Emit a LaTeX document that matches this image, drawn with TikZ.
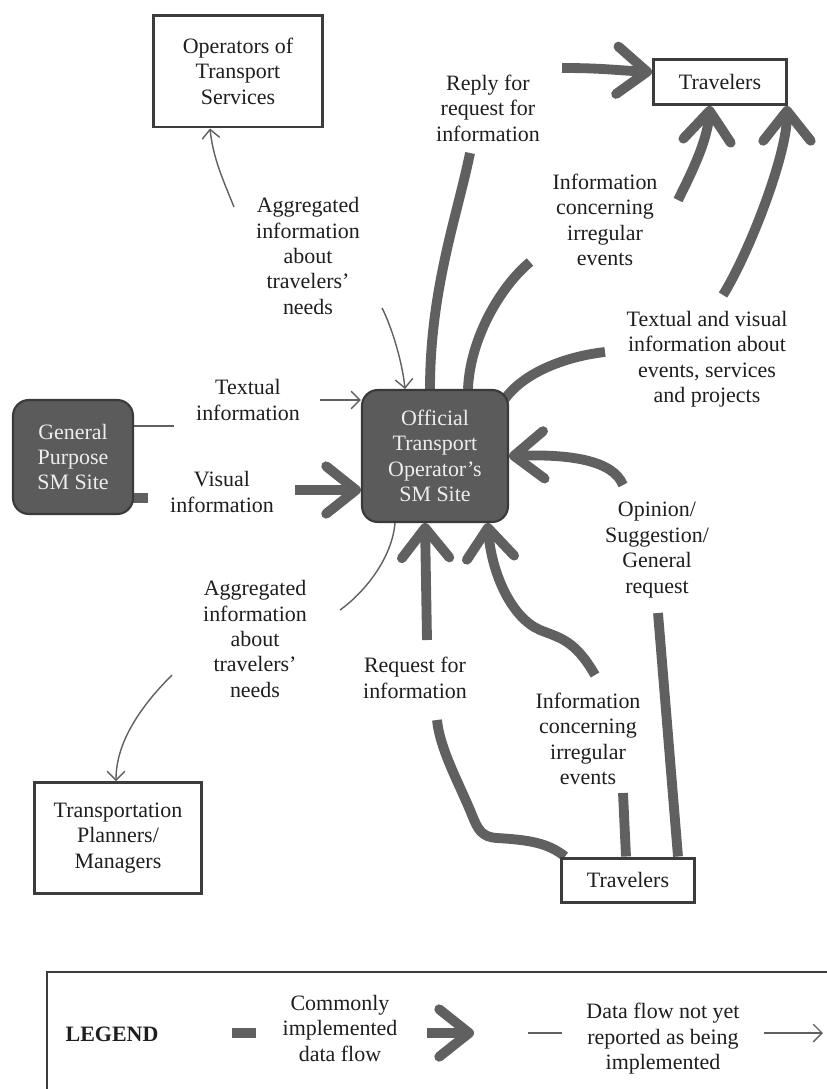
\documentclass[tikz,border=0pt]{standalone}
\usepackage{fontspec}
\setmainfont{Liberation Serif}
\usetikzlibrary{arrows.meta, backgrounds}

\definecolor{flowgray}{HTML}{606060}
\definecolor{sitefill}{HTML}{5B5B5B}
\definecolor{siteline}{HTML}{3A3A3A}
\definecolor{sitetext}{HTML}{EDEDED}
\definecolor{boxline}{HTML}{3C3C3C}
\definecolor{labeltext}{HTML}{1E1E1E}

\begin{document}
\begin{tikzpicture}[x=0.02cm, y=-0.02cm,
	every node/.style={font=\fontsize{12.5}{14.5}\selectfont, align=center, text=labeltext},
	plainbox/.style={draw=boxline, line width=1.7pt, fill=white},
	sitebox/.style={draw=siteline, line width=1.2pt, fill=sitefill, rounded corners=9pt, text=sitetext},
	bigflow/.style={draw=flowgray, line width=5.6pt},
	bigarrow/.style={bigflow, -{Straight Barb[length=17pt, width=27pt, round]}},
	thinflow/.style={draw=flowgray, line width=0.8pt},
	thinarrow/.style={thinflow, -{Straight Barb[length=5pt, width=10pt]}}]
	
	\useasboundingbox (0,0) rectangle (826,1089);
	
	% boxes
	\node[plainbox, minimum width=3.4cm, minimum height=2.24cm] (operators) at (238,71) {Operators of\\Transport\\Services};
	\node[plainbox, minimum width=2.66cm, minimum height=0.9cm] (travtop) at (720,82) {Travelers};
	\node[sitebox, minimum width=2.4cm, minimum height=2.28cm] (gensite) at (73,457) {General\\Purpose\\SM Site};
	\node[sitebox, minimum width=2.92cm, minimum height=2.64cm] (offsite) at (435,456) {Official\\Transport\\Operator's\\SM Site};
	\node[plainbox, minimum width=3.36cm, minimum height=2.22cm] (planners) at (118,838) {Transportation\\Planners/\\Managers};
	\node[plainbox, minimum width=2.66cm, minimum height=0.88cm] (travbot) at (628,880) {Travelers};
	
	% flow labels
	\node (aggtop) at (308,256) {Aggregated\\information\\about\\travelers'\\needs};
	\node (textual) at (248,400) {Textual\\information};
	\node (visual) at (222,492) {Visual\\information};
	\node (aggbot) at (255,639) {Aggregated\\information\\about\\travelers'\\needs};
	\node (reply) at (488,108) {Reply for\\request for\\information};
	\node (irrtop) at (605,220) {Information\\concerning\\irregular\\events};
	\node (textvis) at (707,359) {Textual and visual\\information about\\events, services\\and projects};
	\node (opinion) at (657,550) {Opinion/\\Suggestion/\\General\\request};
	\node (irrbot) at (588,739) {Information\\concerning\\irregular\\events};
	\node (request) at (415,678) {Request for\\information};
	
	% ends of the broken flows
	\coordinate (a1) at (234,207);
	\coordinate (a2) at (382,308);
	\coordinate (t1) at (174,426);
	\coordinate (t2) at (320,400);
	\coordinate (v1) at (148,498);
	\coordinate (v2) at (295,490);
	\coordinate (b1) at (340,610);
	\coordinate (b2) at (172,675);
	\coordinate (r1) at (470,153);
	\coordinate (r2) at (562,68);
	\coordinate (i1) at (530,262);
	\coordinate (i2) at (678,200);
	\coordinate (tv1) at (605,352);
	\coordinate (tv2) at (723,295);
	\coordinate (o1) at (658,613);
	\coordinate (o2) at (623,485);
	\coordinate (e1) at (623,793);
	\coordinate (e2) at (595,675);
	\coordinate (q1) at (437,720);
	\coordinate (q2) at (427,640);
	
	\begin{scope}[on background layer]
		% not yet implemented
		\draw[thinarrow] (a1) .. controls +(-10,-25) and +(3,30) .. ([xshift=-0.56cm]operators.south);
		\draw[thinarrow] (a2) .. controls +(8,15) and +(-3,-30) .. ([xshift=-0.6cm]offsite.north);
		\draw[thinflow] (gensite.center |- t1) -- (t1);
		\draw[thinarrow] (t2) -- (offsite.west |- t2);
		\draw[thinflow] ([xshift=-0.8cm]offsite.south) .. controls +(-3,35) and +(25,-18) .. (b1);
		\draw[thinarrow] (b2) .. controls +(-30,30) and +(0,-40) .. ([xshift=-0.04cm]planners.north);
		
		% commonly implemented
		\draw[bigflow] (gensite.center |- v1) -- (v1);
		\draw[bigarrow] (v2) -- (offsite.west |- v2);
		\draw[bigflow] ([xshift=-0.1cm]offsite.north) .. controls +(0,-100) and +(-12,60) .. (r1);
		\draw[bigarrow] (r2) .. controls +(40,0) and +(-40,-2) .. ([yshift=0.2cm]travtop.west);
		\draw[bigflow] ([xshift=0.66cm]offsite.north) .. controls +(2,-50) and +(-30,25) .. (i1);
		\draw[bigarrow] (i2) .. controls +(15,-30) and +(-3,35) .. ([xshift=-0.2cm]travtop.south);
		\draw[bigflow] ([xshift=-0.3cm, yshift=-0.7cm]offsite.north east) .. controls +(8,-45) and +(-45,5) .. (tv1);
		\draw[bigarrow] (tv2) .. controls +(25,-40) and +(0,50) .. ([xshift=-0.02cm]travtop.south east);
		\draw[bigflow] ([xshift=1cm]travbot.north) -- (o1);
		\draw[bigarrow] (o2) .. controls +(-10,-25) and +(60,-2) .. (offsite.east);
		\draw[bigflow] ([xshift=-0.04cm]travbot.north) -- (e1);
		\draw[bigarrow] (e2) .. controls (575,640) and (560,638) .. (540,630)
			.. controls (512,618) and (492,575) .. ([xshift=1.05cm]offsite.south);
		\draw[bigflow] ([xshift=0.1cm]travbot.north west) .. controls (548,843) and (530,840) .. (497,838)
			.. controls (482,837) and (478,830) .. (472,815) .. controls (460,785) and (440,750) .. (q1);
		\draw[bigarrow] (q2) -- ([xshift=-0.2cm]offsite.south);
	\end{scope}
	
	% legend
	\draw[draw=boxline, line width=1.4pt] (47,972) rectangle (870,1130);
	\node[font=\fontsize{12.5}{14.5}\selectfont\bfseries] (legendtitle) at (112,1034) {LEGEND};
	\node (commonlbl) at (340,1028) {Commonly\\implemented\\data flow};
	\node (notyetlbl) at (663,1039) {Data flow not yet\\reported as being\\implemented};
	\coordinate (lg1) at (232,1033);
	\coordinate (lg2) at (256,1033);
	\coordinate (lg3) at (427,1033);
	\coordinate (lg4) at (474,1033);
	\coordinate (lg5) at (528,1033);
	\coordinate (lg6) at (562,1033);
	\coordinate (lg7) at (764,1033);
	\coordinate (lg8) at (823,1033);
	\draw[bigflow] (lg1) -- (lg2);
	\draw[bigarrow] (lg3) -- (lg4);
	\draw[thinflow] (lg5) -- (lg6);
	\draw[thinarrow] (lg7) -- (lg8);
	
\end{tikzpicture}
\end{document}
